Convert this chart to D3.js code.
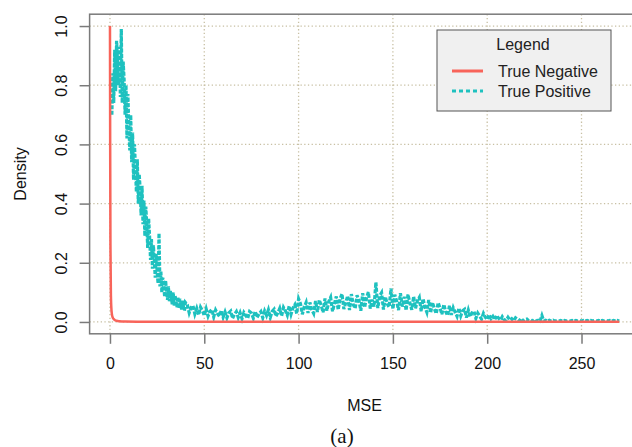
<!DOCTYPE html>
<html>
<head>
<meta charset="utf-8">
<script src="https://cdn.jsdelivr.net/npm/d3@7"></script>
<style>
  body { margin: 0; background: #fff; }
  text { font-family: "Liberation Sans", Arial, sans-serif; }
</style>
</head>
<body>
<div id="vis"></div>
<script>
// tick labels
const xTicks = [0, 50, 100, 150, 200, 250];
const yTicks = [0.0, 0.2, 0.4, 0.6, 0.8, 1.0];

// True Negative density, (MSE, density) pairs
const tnX = [0, 0.1, 0.25, 0.5, 0.8, 1.2, 1.8, 2.5, 3.5, 5, 8, 15, 40, 100, 270];
const tnY = [1.0, 0.62, 0.26, 0.09, 0.04, 0.02, 0.011, 0.007, 0.004, 0.0025, 0.0015, 0.001, 0.0005, 0.0003, 0.0003];

// True Positive density, first part: MSE 1 to 40 every 0.5
const tpHeadStart = 1, tpHeadStep = 0.5;
const tpHead = [
  0.70, 0.84, 0.74, 0.92, 0.78, 0.95, 0.88, 0.80, 0.93, 0.76,
  0.99, 0.74, 0.88, 0.82, 0.70, 0.80, 0.62, 0.77, 0.66, 0.58,
  0.70, 0.54, 0.64, 0.48, 0.60, 0.52, 0.44, 0.55, 0.40, 0.50,
  0.45, 0.36, 0.46, 0.33, 0.41, 0.29, 0.39, 0.33, 0.25, 0.35,
  0.29, 0.21, 0.28, 0.18, 0.26, 0.21, 0.15, 0.23, 0.17, 0.13,
  0.30, 0.12, 0.17, 0.10, 0.15, 0.12, 0.085, 0.14, 0.10, 0.075,
  0.12, 0.07, 0.105, 0.085, 0.06, 0.10, 0.055, 0.09, 0.07, 0.05,
  0.085, 0.046, 0.078, 0.06, 0.042, 0.072, 0.05, 0.038, 0.066
];

// True Positive density, second part: MSE 41 to 270 every 1
const tpTailStart = 41, tpTailStep = 1;
const tpTail = [
  0.058, 0.031, 0.049, 0.055, 0.027, 0.046, 0.024, 0.050, 0.038, 0.021,
  0.044, 0.020, 0.036, 0.042, 0.017, 0.040, 0.028, 0.019, 0.039, 0.016,
  0.034, 0.014, 0.031, 0.037, 0.012, 0.026, 0.035, 0.015, 0.031, 0.011,
  0.032, 0.022, 0.012, 0.035, 0.030, 0.013, 0.036, 0.015, 0.027, 0.035,
  0.014, 0.037, 0.022, 0.041, 0.015, 0.036, 0.043, 0.019, 0.031, 0.046,
  0.020, 0.049, 0.038, 0.023, 0.054, 0.026, 0.047, 0.058, 0.028, 0.078,
  0.062, 0.026, 0.051, 0.066, 0.030, 0.066, 0.041, 0.029, 0.071, 0.034,
  0.074, 0.055, 0.033, 0.079, 0.038, 0.069, 0.083, 0.036, 0.062, 0.086,
  0.041, 0.078, 0.095, 0.044, 0.065, 0.088, 0.040, 0.094, 0.058, 0.046,
  0.090, 0.072, 0.038, 0.097, 0.049, 0.082, 0.101, 0.045, 0.076, 0.052,
  0.134, 0.047, 0.088, 0.099, 0.042, 0.085, 0.061, 0.050, 0.113, 0.044,
  0.092, 0.070, 0.040, 0.097, 0.052, 0.085, 0.039, 0.093, 0.064, 0.041,
  0.086, 0.046, 0.072, 0.083, 0.036, 0.078, 0.050, 0.033, 0.074, 0.031,
  0.066, 0.044, 0.028, 0.065, 0.047, 0.026, 0.059, 0.035, 0.022, 0.055,
  0.024, 0.048, 0.033, 0.019, 0.047, 0.021, 0.038, 0.043, 0.015, 0.040,
  0.018, 0.032, 0.036, 0.012, 0.030, 0.020, 0.010, 0.029, 0.016, 0.008,
  0.025, 0.011, 0.019, 0.007, 0.022, 0.013, 0.006, 0.018, 0.008, 0.005,
  0.016, 0.006, 0.011, 0.004, 0.014, 0.009, 0.004, 0.012, 0.004, 0.008,
  0.010, 0.004, 0.007, 0.003, 0.009, 0.003, 0.006, 0.003, 0.022, 0.003,
  0.006, 0.003, 0.006, 0.003, 0.006, 0.003, 0.005, 0.003, 0.005, 0.003,
  0.005, 0.003, 0.005, 0.003, 0.005, 0.003, 0.005, 0.003, 0.005, 0.003,
  0.005, 0.003, 0.005, 0.003, 0.005, 0.003, 0.005, 0.003, 0.005, 0.003,
  0.005, 0.003, 0.005, 0.003, 0.005, 0.003, 0.005, 0.003, 0.005, 0.003
];

const seriesNames = ["True Negative", "True Positive"];
const seriesColours = ["#f8645a", "#1ec1bf"];

const width = 632;
const height = 447;

// plot region (R pads the data range by 4% each side)
const x = d3.scaleLinear().domain([-10.8, 280.8]).range([89.6, 639.6]);
const y = d3.scaleLinear().domain([-0.04, 1.04]).range([333.8, 14.2]);

const svg = d3.select("#vis").append("svg")
  .attr("width", width)
  .attr("height", height);

const [x0, x1] = x.range();
const [y0, y1] = y.range();

// dotted grid
const grid = svg.append("g")
  .attr("stroke", "#c8c0a4")
  .attr("stroke-width", 1.3)
  .attr("stroke-dasharray", "1.3,2.4");
grid.selectAll(".gx").data(xTicks).enter().append("line")
  .attr("x1", d => x(d)).attr("x2", d => x(d))
  .attr("y1", y0).attr("y2", y1);
grid.selectAll(".gy").data(yTicks).enter().append("line")
  .attr("x1", x0).attr("x2", x1)
  .attr("y1", d => y(d)).attr("y2", d => y(d));

// build point arrays
const tpPoints = tpHead.map((v, i) => [tpHeadStart + i * tpHeadStep, v])
  .concat(tpTail.map((v, i) => [tpTailStart + i * tpTailStep, v]));
const tnPoints = tnX.map((v, i) => [v, tnY[i]]);

const line = d3.line().x(d => x(d[0])).y(d => y(d[1]));

svg.append("path")
  .datum(tpPoints)
  .attr("fill", "none")
  .attr("stroke", seriesColours[1])
  .attr("stroke-width", 3.2)
  .attr("stroke-dasharray", "4,1.6")
  .attr("d", line);

svg.append("path")
  .datum(tnPoints)
  .attr("fill", "none")
  .attr("stroke", seriesColours[0])
  .attr("stroke-width", 2.5)
  .attr("d", d3.line().x(d => x(d[0])).y(d => y(d[1])).curve(d3.curveMonotoneX));

// box round the plot region
svg.append("rect")
  .attr("x", x0).attr("y", y1)
  .attr("width", x1 - x0).attr("height", y0 - y1)
  .attr("fill", "none")
  .attr("stroke", "#7a7a7a")
  .attr("stroke-width", 1.5);

// x axis
const xAxis = svg.append("g")
  .attr("transform", `translate(0,${y0})`)
  .call(d3.axisBottom(x).tickValues(xTicks).tickSize(10).tickPadding(14).tickFormat(d3.format("d")));
xAxis.select(".domain").remove();
xAxis.selectAll(".tick line").attr("stroke", "#7a7a7a").attr("stroke-width", 1.5);
xAxis.selectAll(".tick text").attr("font-size", 16).attr("fill", "#111")
  .attr("font-family", "Liberation Sans, Arial, sans-serif");

// y axis, labels turned like R's las=0
const yAxis = svg.append("g")
  .attr("transform", `translate(${x0},0)`)
  .call(d3.axisLeft(y).tickValues(yTicks).tickSize(10).tickFormat(d3.format(".1f")));
yAxis.select(".domain").remove();
yAxis.selectAll(".tick line").attr("stroke", "#7a7a7a").attr("stroke-width", 1.5);
yAxis.selectAll(".tick text")
  .attr("font-size", 16).attr("fill", "#111")
  .attr("font-family", "Liberation Sans, Arial, sans-serif")
  .attr("x", null).attr("dy", null)
  .attr("text-anchor", "middle")
  .attr("transform", `translate(${67 - x0},0) rotate(-90)`);

// axis titles
svg.append("text")
  .attr("x", (x0 + x1) / 2).attr("y", 411)
  .attr("text-anchor", "middle")
  .attr("font-size", 16).attr("fill", "#111")
  .text("MSE");

svg.append("text")
  .attr("transform", `translate(26,${(y0 + y1) / 2}) rotate(-90)`)
  .attr("text-anchor", "middle")
  .attr("font-size", 16).attr("fill", "#111")
  .text("Density");

svg.append("text")
  .attr("x", 342).attr("y", 443)
  .attr("text-anchor", "middle")
  .attr("font-size", 21).attr("fill", "#111")
  .style("font-family", "'Liberation Serif', 'Times New Roman', serif")
  .text("(a)");

// legend
const legend = svg.append("g").attr("transform", "translate(437,30)");
legend.append("rect")
  .attr("width", 174).attr("height", 81)
  .attr("fill", "#f0f0f0")
  .attr("stroke", "#555")
  .attr("stroke-width", 1);
legend.append("text")
  .attr("x", 86).attr("y", 20)
  .attr("text-anchor", "middle")
  .attr("font-size", 16).attr("fill", "#222")
  .text("Legend");

const items = legend.selectAll(".item").data(seriesNames).enter().append("g")
  .attr("transform", (d, i) => `translate(0,${41 + i * 20})`);
items.append("line")
  .attr("x1", 15).attr("x2", 46)
  .attr("stroke", (d, i) => seriesColours[i])
  .attr("stroke-width", 3)
  .attr("stroke-dasharray", (d, i) => i === 1 ? "4,3" : null);
items.append("text")
  .attr("x", 61).attr("y", 6)
  .attr("font-size", 16).attr("fill", "#222")
  .text(d => d);
</script>
</body>
</html>
